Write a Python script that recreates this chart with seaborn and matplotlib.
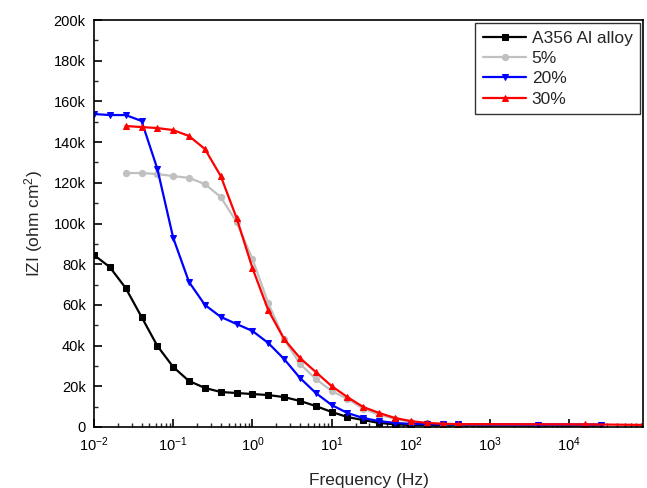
import matplotlib
matplotlib.use("Agg")
import matplotlib.pyplot as plt
import matplotlib.ticker as mticker
import numpy as np
import pandas as pd
import seaborn as sns

# ---- data (|Z| in ohm cm^2 vs frequency in Hz) ----
freq_base = [0.01, 0.0158, 0.0251, 0.0398, 0.0631, 0.1, 0.158, 0.251, 0.398, 0.631,
             1.0, 1.58, 2.51, 3.98, 6.31, 10.0, 15.8, 25.1, 39.8, 63.1,
             100.0, 158.0, 251.0, 398.0]

alloy_freq = freq_base + [3981.0, 25119.0]
alloy_z = [84500, 78600, 68300, 54100, 39800, 29500, 22600, 19200, 17200, 16700,
           16200, 15700, 14700, 12800, 10300, 7400, 4900, 3400, 2000, 1300,
           1000, 900, 800, 800, 700, 700]

p5_freq = freq_base[2:] + [3981.0, 25119.0]
p5_z = [124800, 124800, 124300, 123300, 122400, 119400, 113000, 100700,
        82600, 60900, 43200, 31000, 23600, 17700, 13800, 9000, 6000, 4000,
        2500, 1800, 1500, 1300, 1200, 1100]

p20_freq = freq_base + [3981.0, 25119.0]
p20_z = [153800, 153300, 153300, 150400, 126800, 92900, 71300, 60000, 54100, 50600,
         47200, 41300, 33400, 24100, 16700, 10800, 6900, 4400, 2900, 2000,
         1500, 1400, 1300, 1300, 1200, 1200]

p30_freq = freq_base[2:] + [15849.0, 100000.0]
p30_z = [147900, 147400, 146900, 145900, 143000, 136600, 123300, 102700,
         78100, 57500, 43200, 33900, 27000, 20100, 14700, 9800, 6900, 4400,
         2900, 2000, 1600, 1400, 1300, 1000]

series_names = ["A356 Al alloy", "5%", "20%", "30%"]
series_colors = ["#000000", "#c0c0c0", "#0000ff", "#ff0000"]
series_markers = ["s", "o", "v", "^"]

y_ticks = [0, 20000, 40000, 60000, 80000, 100000, 120000, 140000, 160000, 180000, 200000]

# ---- style ----
sns.set_theme(style="white")
plt.rcParams["font.family"] = ["Liberation Sans", "DejaVu Sans"]
plt.rcParams["mathtext.fontset"] = "custom"
plt.rcParams["mathtext.rm"] = "Liberation Sans"
plt.rcParams["mathtext.it"] = "Liberation Sans:italic"
plt.rcParams["axes.edgecolor"] = "black"

fig = plt.figure(figsize=(6.47, 4.88), dpi=100)
ax = fig.add_axes([0.1453, 0.125, 0.9938 - 0.1453, 0.959 - 0.125])

datasets = [(alloy_freq, alloy_z), (p5_freq, p5_z), (p20_freq, p20_z), (p30_freq, p30_z)]
for (f, z), name, c, m in zip(datasets, series_names, series_colors, series_markers):
    df = pd.DataFrame({"f": f, "z": z})
    sns.lineplot(data=df, x="f", y="z", ax=ax, color=c, marker=m, markersize=4.5,
                 markeredgecolor=c, linewidth=1.6, label=name, sort=False, clip_on=True)

ax.set_xscale("log")
ax.set_xlim(0.01, 10 ** 4.93)
ax.set_ylim(0, 200000)
ax.set_yticks(y_ticks)
ax.yaxis.set_minor_locator(mticker.MultipleLocator(10000))
ax.yaxis.set_major_formatter(mticker.FuncFormatter(lambda v, p: "0" if v == 0 else f"{int(round(v / 1000))}k"))
ax.xaxis.set_major_locator(mticker.LogLocator(base=10, numticks=12))
ax.xaxis.set_minor_locator(mticker.LogLocator(base=10, subs=np.arange(2, 10), numticks=12))
ax.xaxis.set_minor_formatter(mticker.NullFormatter())

ax.tick_params(axis="both", which="major", direction="in", length=6, width=1.2,
               labelsize=10.5, colors="black", bottom=True, left=True, top=False, right=False, pad=6)
ax.tick_params(axis="both", which="minor", direction="in", length=3, width=1.0,
               bottom=True, left=True, top=False, right=False)
for s in ax.spines.values():
    s.set_linewidth(1.2)
    s.set_color("black")

ax.set_xlabel("Frequency (Hz)", fontsize=12.5, labelpad=14)
ax.set_ylabel("IZI (ohm cm$^{2}$)", fontsize=12.5, labelpad=6)

leg = ax.legend(loc="upper right", fontsize=12.5, frameon=True, fancybox=False,
                edgecolor="black", handlelength=2.5, handletextpad=0.3,
                borderpad=0.45, labelspacing=0.3, borderaxespad=0.15)
leg.get_frame().set_linewidth(1.0)

fig.savefig("out.png", dpi=100)
